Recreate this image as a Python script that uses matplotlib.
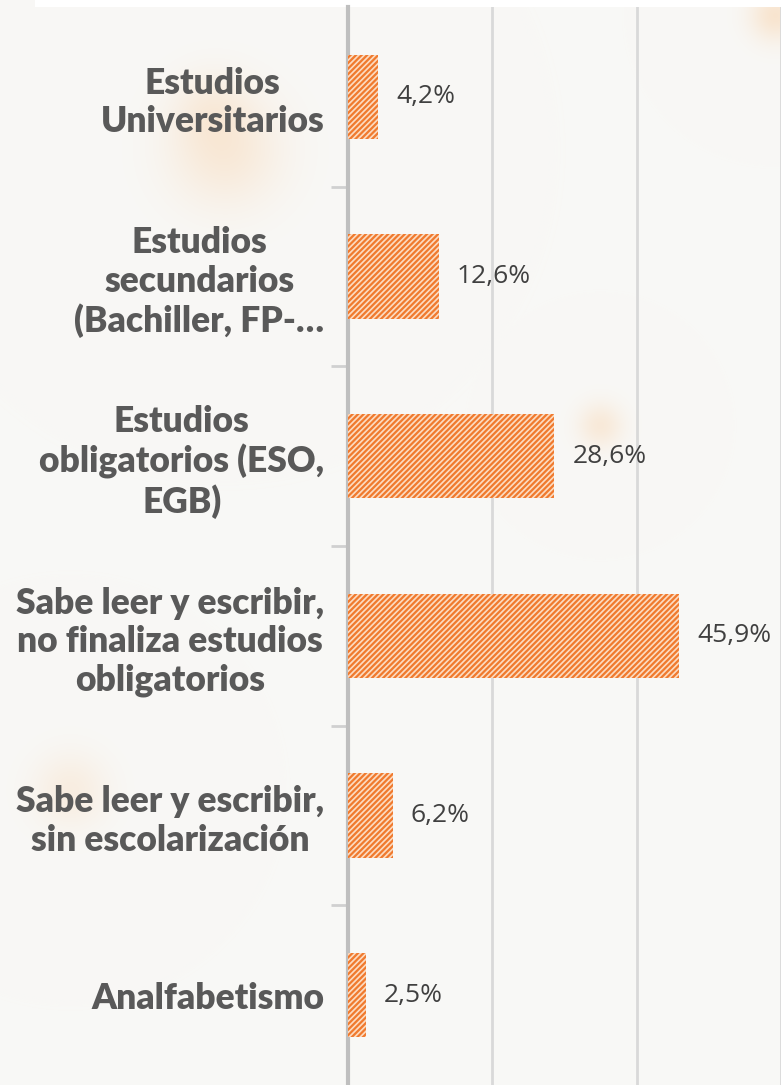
import numpy as np
from matplotlib import pyplot as plt

# niveles de estudios (de abajo a arriba)
categorias = ['Analfabetismo',
              'Sabe leer y escribir,\nsin escolarización',
              'Sabe leer y escribir,\nno finaliza estudios\nobligatorios',
              'Estudios\nobligatorios (ESO,\nEGB)',
              'Estudios\nsecundarios\n(Bachiller, FP-…',
              'Estudios\nUniversitarios']
porcentajes = [2.5, 6.2, 45.9, 28.6, 12.6, 4.2]
etiquetas = ['2,5%', '6,2%', '45,9%', '28,6%', '12,6%', '4,2%']

plt.rcParams['hatch.linewidth'] = 1.6
plt.rcParams['font.family'] = ['Lato', 'DejaVu Sans']

fig = plt.figure(figsize=(7.81, 10.85), dpi=100)
fig.patch.set_facecolor('#f8f8f6')

# manchas difusas del fondo
bg = fig.add_axes([0, 0, 1, 1], zorder=-5)
yy, xx = np.mgrid[0:1085, 0:781]
img = np.ones((1085, 781, 3)) * np.array([248, 248, 246]) / 255
for cx, cy, r, a in [(225, 150, 40, 0.3), (600, 425, 16, 0.3),
                     (70, 790, 26, 0.22), (775, 15, 18, 0.4),
                     (210, 110, 26, 0.18)]:
    g = a * np.exp(-((xx - cx) ** 2 + (yy - cy) ** 2) / (2 * r ** 2))
    img = img * (1 - g[..., None]) + np.array([250, 200, 150]) / 255 * g[..., None]
img[0:7, 35:] = 1.0
bg.imshow(img, aspect='auto')
bg.axis('off')

ax = fig.add_axes([348 / 781, 0, 1 - 348 / 781, 1078 / 1085])
ax.set_facecolor('none')
y = np.arange(len(categorias))
ax.barh(y, porcentajes, height=0.47, color='#fcdcc2', edgecolor='#f07a2e',
        linewidth=0, hatch='//////', zorder=3)

for yi, v, t in zip(y, porcentajes, etiquetas):
    ax.text(v + 2.5, yi, t, va='center', ha='left', fontsize=19,
            color='#404040', family=['Open Sans', 'DejaVu Sans'])

ax.set_xlim(0, 60)
ax.set_ylim(-0.5, len(categorias) - 0.5)
ax.set_xticks([20, 40, 60])
ax.xaxis.grid(True, color='#d9d9d9', linewidth=2)
ax.set_axisbelow(True)
ax.tick_params(axis='x', length=0, labelbottom=False)

ax.set_yticks(y)
ax.set_yticklabels(categorias, fontsize=25.5, fontweight='heavy',
                   color='#595959', linespacing=1.2, ha='right',
                   multialignment='center')
ax.tick_params(axis='y', which='major', length=0, pad=17)
ax.set_yticks(np.arange(0.5, len(categorias) - 0.5), minor=True)
ax.tick_params(axis='y', which='minor', length=12, width=2, color='#d0d0d0')

for s in ['top', 'right', 'bottom']:
    ax.spines[s].set_visible(False)
ax.spines['left'].set_color('#bfbfbf')
ax.spines['left'].set_linewidth(3)

fig.savefig('out.png', dpi=100, facecolor=fig.get_facecolor())
